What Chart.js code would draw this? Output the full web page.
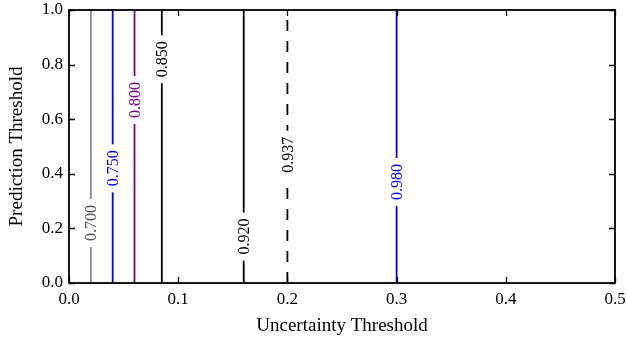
<!DOCTYPE html>
<html>
<head>
<meta charset="utf-8">
<script src="https://cdn.jsdelivr.net/npm/chart.js@4/dist/chart.umd.min.js"></script>
<style>
  html, body { margin: 0; padding: 0; background: #fff; }
  #wrap { width: 627px; height: 343px; }
</style>
</head>
<body>
<div id="wrap"><canvas id="contourChart"></canvas></div>
<script>
// contour levels (vertical lines)
const levels = ['0.700', '0.750', '0.800', '0.850', '0.920', '0.937', '0.980'];
const uncertainty = [0.02, 0.04, 0.06, 0.085, 0.16, 0.2, 0.3];
const labelAt = [0.22, 0.42, 0.67, 0.82, 0.17, 0.47, 0.37];
const lineColors = ['#8c8c8c', '#0000ff', '#800080', '#000000', '#000000', '#000000', '#0000ff'];
const textColors = ['#555555', '#0000ff', '#800080', '#000000', '#000000', '#000000', '#0000ff'];
const dashed = [false, false, false, false, false, true, false];

const xTicks = [0.0, 0.1, 0.2, 0.3, 0.4, 0.5];
const yTicks = [0.0, 0.2, 0.4, 0.6, 0.8, 1.0];

const serif = '"Liberation Serif", "DejaVu Serif", serif';

let datasets = [];
for (let i = 0; i < levels.length; i++) {
    datasets.push({
        label: levels[i],
        data: [{ x: uncertainty[i], y: 0 }, { x: uncertainty[i], y: 1 }],
        borderColor: lineColors[i],
        borderWidth: 1.8,
        borderDash: dashed[i] ? [11, 10] : [],
        pointRadius: 0,
        showLine: true,
        fill: false
    });
}

// white gap + rotated label on each contour line
const contourLabels = {
    id: 'contourLabels',
    afterDatasetsDraw(chart) {
        const ctx = chart.ctx;
        const xs = chart.scales.x, ys = chart.scales.y;
        ctx.save();
        ctx.font = '16px ' + serif;
        for (let i = 0; i < levels.length; i++) {
            let px = xs.getPixelForValue(uncertainty[i]);
            let py = ys.getPixelForValue(labelAt[i]);
            let w = ctx.measureText(levels[i]).width;
            ctx.fillStyle = '#fff';
            ctx.fillRect(px - 4, py - w / 2 - 6, 8, w + 12);
            ctx.translate(px, py);
            ctx.rotate(-Math.PI / 2);
            ctx.fillStyle = textColors[i];
            ctx.textAlign = 'center';
            ctx.textBaseline = 'middle';
            ctx.fillText(levels[i], 0, 1);
            ctx.setTransform(1, 0, 0, 1, 0, 0);
        }
        ctx.restore();
    }
};

// box frame with inward ticks on all four sides
const frame = {
    id: 'frame',
    afterDraw(chart) {
        const ctx = chart.ctx;
        const a = chart.chartArea;
        const xs = chart.scales.x, ys = chart.scales.y;
        const len = 6;
        ctx.save();
        ctx.strokeStyle = '#000';
        ctx.lineWidth = 1.3;
        ctx.beginPath();
        xTicks.forEach(v => {
            let p = Math.round(xs.getPixelForValue(v)) + 0.5;
            ctx.moveTo(p, a.bottom); ctx.lineTo(p, a.bottom - len);
            ctx.moveTo(p, a.top); ctx.lineTo(p, a.top + len);
        });
        yTicks.forEach(v => {
            let p = Math.round(ys.getPixelForValue(v)) + 0.5;
            ctx.moveTo(a.left, p); ctx.lineTo(a.left + len, p);
            ctx.moveTo(a.right, p); ctx.lineTo(a.right - len, p);
        });
        ctx.stroke();
        ctx.lineWidth = 1.8;
        ctx.strokeRect(a.left, a.top, a.right - a.left, a.bottom - a.top);
        ctx.restore();
    }
};

new Chart(document.getElementById('contourChart'), {
    type: 'scatter',
    data: { datasets: datasets },
    options: {
        responsive: true,
        maintainAspectRatio: false,
        animation: false,
        layout: { padding: { left: 0, right: 12, top: 10, bottom: 0 } },
        plugins: { legend: { display: false }, tooltip: { enabled: false } },
        scales: {
            x: {
                type: 'linear',
                min: 0, max: 0.5,
                afterFit: s => { s.height = 60; s.paddingLeft = 0; s.paddingRight = 0; },
                afterBuildTicks: s => { s.ticks = xTicks.map(v => ({ value: v })); },
                grid: { display: false, drawTicks: false },
                border: { display: false },
                ticks: {
                    color: '#000',
                    padding: 6,
                    font: { family: serif, size: 17 },
                    callback: v => v.toFixed(1)
                },
                title: {
                    display: true,
                    text: 'Uncertainty Threshold',
                    color: '#000',
                    font: { family: serif, size: 19 },
                    padding: { top: 0, bottom: 6 }
                }
            },
            y: {
                type: 'linear',
                min: 0, max: 1,
                afterFit: s => { s.width = 69; s.paddingTop = 0; s.paddingBottom = 0; },
                afterBuildTicks: s => { s.ticks = yTicks.map(v => ({ value: v })); },
                grid: { display: false, drawTicks: false },
                border: { display: false },
                ticks: {
                    color: '#000',
                    padding: 6,
                    font: { family: serif, size: 17 },
                    callback: v => v.toFixed(1)
                },
                title: {
                    display: true,
                    text: 'Prediction Threshold',
                    color: '#000',
                    font: { family: serif, size: 19 },
                    padding: { top: 6, bottom: 0 }
                }
            }
        }
    },
    plugins: [contourLabels, frame]
});
</script>
</body>
</html>
